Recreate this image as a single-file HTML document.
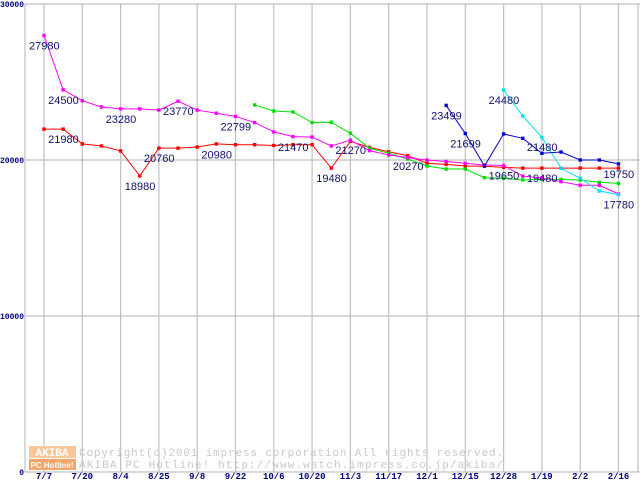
<!DOCTYPE html>
<html><head><meta charset="utf-8"><style>
body{margin:0;background:#fff;}
svg{display:block;}
</style></head><body>
<svg id="chart" width="640" height="480" xmlns="http://www.w3.org/2000/svg" font-family="Liberation Sans, sans-serif">
<g id="grid"></g>
<g id="wm">
 <rect x="29" y="446" width="47" height="12" fill="#fbc79a"/>
 <text x="52" y="456" font-size="11" font-weight="bold" fill="#fff" text-anchor="middle" font-family="Liberation Mono, monospace">AKIBA</text>
 <rect x="29" y="459" width="47" height="11" fill="#f6a46a"/>
 <text x="52" y="468" font-size="8" font-weight="bold" fill="#fff" text-anchor="middle">PC Hotline!</text>
 <text x="79" y="456" font-size="11" fill="#c8c8c8" font-family="Liberation Mono, monospace" textLength="424">Copyright(c)2001 impress corporation All rights reserved.</text>
 <text x="79" y="468" font-size="11" fill="#c8c8c8" font-family="Liberation Mono, monospace" textLength="424">AKIBA PC Hotline!  http://www.watch.impress.co.jp/akiba/</text>
</g>
<g id="series"></g>
<g id="labels"></g>
</svg>
<script>
const xTicks=["7/7","7/20","8/4","8/25","9/8","9/22","10/6","10/20","11/3","11/17","12/1","12/15","12/28","1/19","2/2","2/16"];
const yTicks=[0,10000,20000,30000];
const magenta=[27980,24500,23800,23400,23280,23280,23200,23770,23200,23000,22799,22400,21800,21500,21470,20900,21270,20600,20320,20150,20000,19900,19790,19680,19650,18970,18850,18610,18380,18380,17820];
const red=[21980,21980,21030,20900,20580,18980,20760,20760,20830,21030,20980,20980,20930,20980,20980,19480,21200,20810,20530,20270,19790,19720,19615,19600,19530,19480,19480,19480,19480,19480,19480];
const green=[null,null,null,null,null,null,null,null,null,null,null,23530,23140,23080,22400,22420,21710,20750,20430,20060,19615,19420,19420,18870,18830,18720,18770,18750,18720,18570,18500];
const blue=[null,null,null,null,null,null,null,null,null,null,null,null,null,null,null,null,null,null,null,null,null,23499,21699,19615,21670,21390,20430,20510,20000,20000,19750];
const cyan=[null,null,null,null,null,null,null,null,null,null,null,null,null,null,null,null,null,null,null,null,null,null,null,null,24480,22820,21450,19470,18830,18010,17780];
const labelText=["27980","24500","23280","23770","22799","21980","20760","18980","20980","21470","19480","21270","20270","23499","21699","24480","19650","21480","19480","19750","17780"];
const labelIdx=[0,1,4,7,10,1,6,5,9,13,15,16,19,21,22,24,24,26,26,30,30];
const labelVal=[27980,24500,23280,23770,22799,21980,20760,18980,20980,21470,19480,21270,20270,23499,21699,24480,19650,21480,19480,19750,17780];
const NS="http://www.w3.org/2000/svg";
const X=i=>44+19.15*i;
const Y=v=>472-v/10000*156;
function mk(t,a,p){const e=document.createElementNS(NS,t);for(const k in a)e.setAttribute(k,a[k]);p.appendChild(e);return e;}
const grid=document.getElementById('grid');
for(let i=0;i<xTicks.length;i++){
 const l=mk('line',{x1:X(2*i),x2:X(2*i),y1:4,y2:472,stroke:'#c0c0c0','stroke-width':1.2},grid);
 
 
 const t=mk('text',{x:X(2*i),y:479,'font-size':9,'font-weight':'bold',fill:'#000080','text-anchor':'middle','font-family':'Liberation Mono, monospace'},grid);
 t.textContent=xTicks[i];
 
 
}
const rb=mk('line',{x1:638,x2:638,y1:4,y2:472,stroke:'#c0c0c0','stroke-width':1.2},grid);


for(const v of yTicks){
 const l=mk('line',{x1:25,x2:640,y1:Y(v),y2:Y(v),stroke:'#c0c0c0','stroke-width':1.2},grid);
 
 
 const t=mk('text',{x:24,y:Y(v)+3,'font-size':8,'font-weight':'bold',fill:'#000080','text-anchor':'end','font-family':'Liberation Mono, monospace'},grid);
 t.textContent=String(v);
 
 
}
const ax=mk('line',{x1:25,x2:25,y1:4,y2:472,stroke:'#c0c0c0','stroke-width':1.2},grid);


const sg=document.getElementById('series');
function series(data,color,name){
 const g=mk('g',{},sg);
 
 
 let pts=[];
 data.forEach((v,i)=>{if(v!=null)pts.push([X(i),Y(v)]);});
 const pl=mk('polyline',{points:pts.map(p=>p.join(',')).join(' '),fill:'none',stroke:color,'stroke-width':1},g);
 
 
 pts.forEach(p=>{
  const r=mk('rect',{x:p[0]-1.7,y:p[1]-1.7,width:3.4,height:3.4,fill:color},g);
  
  
 });
}
series(red,'#ff0000','series-red');
series(green,'#00e000','series-green');
series(magenta,'#ff00ff','series-magenta');
series(cyan,'#00e0f0','series-cyan');
series(blue,'#0000d0','series-blue');
const lg=document.getElementById('labels');
labelText.forEach((s,k)=>{
 const i=labelIdx[k];
 const t=mk('text',{x:X(i)-15,y:Y(labelVal[k])+14,'font-size':11,fill:'#101070'},lg);
 t.textContent=s;
 
 
});
</script>
</body></html>
